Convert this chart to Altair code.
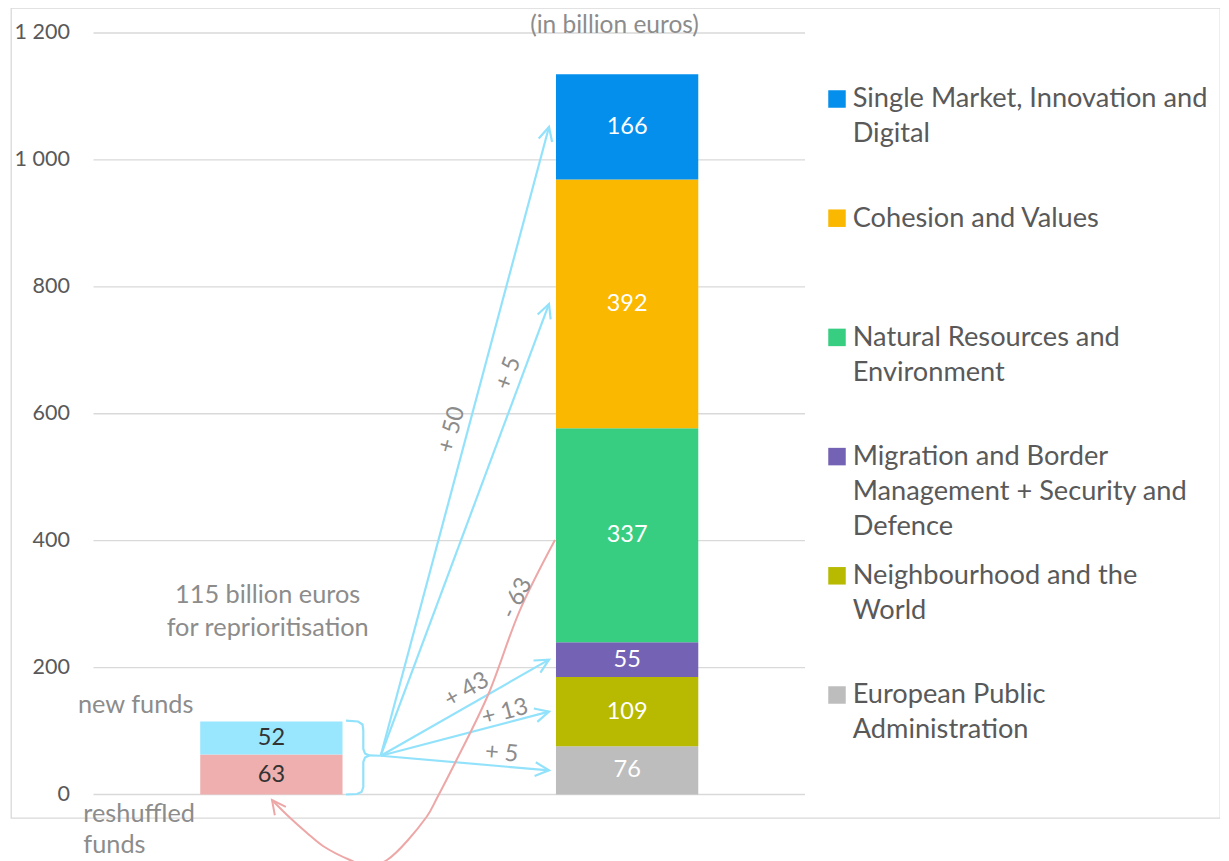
import math
import altair as alt
import pandas as pd

# ---------------- data ----------------
categories = [
    "European Public Administration",
    "Neighbourhood and the World",
    "Migration and Border Management + Security and Defence",
    "Natural Resources and Environment",
    "Cohesion and Values",
    "Single Market, Innovation and Digital",
]
legend_labels = [
    "European Public\nAdministration",
    "Neighbourhood and the\nWorld",
    "Migration and Border\nManagement + Security and\nDefence",
    "Natural Resources and\nEnvironment",
    "Cohesion and Values",
    "Single Market, Innovation and\nDigital",
]
category_values = [76, 109, 55, 337, 392, 166]
flows = [5, 13, 43, -63, 5, 50]
fund_names = ["reshuffled funds", "new funds"]
fund_values = [63, 52]
tick_values = [0, 200, 400, 600, 800, 1000, 1200]
tick_labels = ["0", "200", "400", "600", "800", "1 000", "1 200"]

# ---------------- styles ----------------
cat_colors = ["#BDBDBD", "#B7BA00", "#7463B4", "#38CE82", "#FAB800", "#058FEC"]
fund_colors = ["#EFAFAF", "#99E6FF"]
ARROW_BLUE = "#93E2FB"
ARROW_PINK = "#EDA7A7"
GREY_TXT = "#8C8C8C"
AXIS_TXT = "#595959"
FONT = "Lato"

# ---------------- layout ----------------
W, H = 1209, 810
SX = 711.5          # px per x unit (plot band width)
SY = 761.5 / 1200   # px per value unit
U_MIN = -82.5 / SX
U_MAX = U_MIN + W / SX
Y_MAX = 786.5 / SY
Y_MIN = Y_MAX - H / SY


def u_of(px):
    return U_MIN + px / SX


def y_of(py):
    return Y_MAX - py / SY


def screen_angle(u0, y0, u1, y1):
    dx = (u1 - u0) * SX
    dy = -(y1 - y0) * SY
    return (math.degrees(math.atan2(dy, dx)) + 360) % 360


BAR_HALF = 0.1
LEFT_C, RIGHT_C = 0.25, 0.75

# right bar
right = pd.DataFrame({"cat": categories, "value": category_values, "flow": flows})
right["y1"] = right["value"].cumsum()
right["y0"] = right["y1"] - right["value"]
right["mid"] = (right["y0"] + right["y1"]) / 2
right["x0"] = RIGHT_C - BAR_HALF
right["x1"] = RIGHT_C + BAR_HALF
right["xc"] = RIGHT_C

# left bar
left = pd.DataFrame({"cat": fund_names, "value": fund_values})
left["y1"] = left["value"].cumsum()
left["y0"] = left["y1"] - left["value"]
left["mid"] = (left["y0"] + left["y1"]) / 2
left["x0"] = LEFT_C - BAR_HALF
left["x1"] = LEFT_C + BAR_HALF
left["xc"] = LEFT_C
total_left = float(left["y1"].iloc[-1])

bars = pd.concat([right, left], ignore_index=True)

# brace + arrow origin (relative to left bar)
bar_r = LEFT_C + BAR_HALF
tip_y = 61.5
brace_pts = [
    (bar_r + 0.0049, total_left + 1.3), (bar_r + 0.0218, total_left), (bar_r + 0.0281, total_left - 4.7),
    (bar_r + 0.0292, total_left - 13.4), (bar_r + 0.0292, tip_y + 10.2), (bar_r + 0.0316, tip_y + 3.1),
    (bar_r + 0.0376, tip_y), (bar_r + 0.0316, tip_y - 3.2), (bar_r + 0.0292, tip_y - 10.3),
    (bar_r + 0.0292, 11.8), (bar_r + 0.0267, 3.9), (bar_r + 0.0203, 0.8), (bar_r + 0.0049, 0.0),
]
brace = pd.DataFrame({"u": [p[0] for p in brace_pts], "y": [p[1] for p in brace_pts],
                      "ord": list(range(len(brace_pts))), "id": "brace"})
origin_u, origin_y = bar_r + 0.0537, tip_y - 0.4
target_u = RIGHT_C - BAR_HALF - 0.0098

arrow_rows, head_rows = [], []
for i, r in right.iterrows():
    if r["flow"] > 0:
        arrow_rows.append({"id": f"a{i}", "ord": 0, "u": origin_u, "y": origin_y})
        arrow_rows.append({"id": f"a{i}", "ord": 1, "u": target_u, "y": r["mid"]})
        head_rows.append({"u": target_u, "y": r["mid"],
                          "ang": screen_angle(origin_u, origin_y, target_u, r["mid"])})
arrow_rows.append({"id": "tip", "ord": 0, "u": bar_r + 0.0376, "y": tip_y})
arrow_rows.append({"id": "tip", "ord": 1, "u": origin_u, "y": origin_y})
arrows = pd.DataFrame(arrow_rows)
heads = pd.DataFrame(head_rows)

# pink "-63" curve (annotation shape)
pink_u = [0.6486, 0.5994, 0.5545, 0.5081, 0.4828, 0.4683, 0.4125, 0.3858, 0.3605, 0.3225, 0.3001, 0.2720, 0.2509]
pink_y = [401.0, 290.7, 156.8, 49.6, -5.5, -35.0, -103.2, -112.7, -103.2, -81.1, -60.7, -32.3, -8.7]
pink = pd.DataFrame({"u": pink_u, "y": pink_y, "ord": list(range(len(pink_u)))})
pink_head = pd.DataFrame({"u": [pink_u[-1]], "y": [pink_y[-1]],
                          "ang": [screen_angle(pink_u[-2], pink_y[-2], pink_u[-1], pink_y[-1]) + 8]})

# flow label positions (annotation layout)
flow_lab_u = [0.5737, 0.5784, 0.5245, 0.5948, 0.5830, 0.5034]
flow_lab_y = [64.9, 129.5, 164.7, 309.2, 663.8, 574.6]
flow_txt = [(f"+ {v}" if v > 0 else f"- {abs(v)}") for v in flows]
flow_ang = []
for i, r in right.iterrows():
    if r["flow"] > 0:
        flow_ang.append(screen_angle(origin_u, origin_y, target_u, r["mid"]))
    else:
        flow_ang.append(296.0)
flow_labels = pd.DataFrame({"u": flow_lab_u, "y": flow_lab_y, "t": flow_txt, "ang": flow_ang})

# free texts
notes_c = pd.DataFrame({
    "u": [0.2448, 0.2448, 0.0593],
    "y": [301.3, 249.8, 128.9],
    "t": ["115 billion euros", "for reprioritisation", "new funds"],
})
unit_note = pd.DataFrame({"u": [0.7323], "y": [y_of(32.5 - 8)], "t": ["(in billion euros)"]})
notes_l = pd.DataFrame({"u": [-0.0143], "y": [-42.9], "t": ["reshuffled\nfunds"]})

# legend (manual, evenly spaced)
leg_order = list(range(len(categories)))[::-1]
leg = pd.DataFrame({
    "cat": [categories[i] for i in leg_order],
    "lab": [legend_labels[i] for i in leg_order],
})
base_py = 99.3
step_py = 119.2
leg["ty"] = [y_of(base_py + k * step_py) for k in range(len(leg))]
leg["sy"] = [y_of(base_py - 8.3 + k * step_py) for k in range(len(leg))]
leg["su"] = u_of(826)
leg["tu"] = u_of(841.7)

grid = pd.DataFrame({"v": tick_values, "lab": tick_labels, "gx0": 0.0, "gx1": 1.0, "lx": u_of(59)})

# ---------------- chart ----------------
xs = alt.Scale(domain=[U_MIN, U_MAX], nice=False, zero=False)
ys = alt.Scale(domain=[Y_MIN, Y_MAX], nice=False, zero=False)
cscale = alt.Scale(domain=categories + fund_names, range=cat_colors + fund_colors)


def X(f):
    return alt.X(f, type="quantitative", scale=xs, axis=None)


def Y(f):
    return alt.Y(f, type="quantitative", scale=ys, axis=None)


grid_l = alt.Chart(grid).mark_rule(color="#D9D9D9", strokeWidth=1.3).encode(
    x=X("gx0"), x2="gx1", y=Y("v"))
ticklab_l = alt.Chart(grid).mark_text(font=FONT, fontSize=21.5, color=AXIS_TXT, align="right",
                                      baseline="middle").encode(
    x=X("lx"), y=Y("v"), text="lab:N")

bars_l = alt.Chart(bars).mark_rect().encode(
    x=X("x0"), x2="x1", y=Y("y0"), y2="y1",
    color=alt.Color("cat:N", scale=cscale, legend=None))

rlab = alt.Chart(right).mark_text(font=FONT, fontSize=23.5, color="white", baseline="middle").encode(
    x=X("xc"), y=Y("mid"), text="value:Q")
llab = alt.Chart(left).mark_text(font=FONT, fontSize=23.5, color="#333333", baseline="middle").encode(
    x=X("xc"), y=Y("mid"), text="value:Q")

brace_l = alt.Chart(brace).mark_line(color=ARROW_BLUE, strokeWidth=2.2).encode(
    x=X("u"), y=Y("y"), order="ord:Q")
arrows_l = alt.Chart(arrows).mark_line(color=ARROW_BLUE, strokeWidth=2.2).encode(
    x=X("u"), y=Y("y"), detail="id:N", order="ord:Q")
heads_l = alt.Chart(heads).mark_point(shape="M-1,-0.5L0,0L-1,0.5", filled=False, size=768,
                                      strokeWidth=2.2, color=ARROW_BLUE, opacity=1).encode(
    x=X("u"), y=Y("y"), angle=alt.Angle("ang:Q", scale=None))
pink_l = alt.Chart(pink).mark_line(color=ARROW_PINK, strokeWidth=2, interpolate="catmull-rom").encode(
    x=X("u"), y=Y("y"), order="ord:Q")
pink_head_l = alt.Chart(pink_head).mark_point(shape="M-1,-0.5L0,0L-1,0.5", filled=False, size=768,
                                              strokeWidth=2, color=ARROW_PINK, opacity=1).encode(
    x=X("u"), y=Y("y"), angle=alt.Angle("ang:Q", scale=None))

flow_l = alt.Chart(flow_labels).mark_text(font=FONT, fontSize=23.5, color=GREY_TXT,
                                          align="center", baseline="middle").encode(
    x=X("u"), y=Y("y"), text="t:N", angle=alt.Angle("ang:Q", scale=None))

notes_c_l = alt.Chart(notes_c).mark_text(font=FONT, fontSize=25.3, color=GREY_TXT,
                                         align="center", baseline="alphabetic").encode(
    x=X("u"), y=Y("y"), text="t:N")
unit_l = alt.Chart(unit_note).mark_text(font=FONT, fontSize=24.5, color=GREY_TXT,
                                        align="center", baseline="alphabetic").encode(
    x=X("u"), y=Y("y"), text="t:N")
notes_l_l = alt.Chart(notes_l).mark_text(font=FONT, fontSize=25.3, color=GREY_TXT, align="left",
                                         baseline="alphabetic", lineBreak="\n", lineHeight=31).encode(
    x=X("u"), y=Y("y"), text="t:N")

leg_sq = alt.Chart(leg).mark_square(size=306, opacity=1).encode(
    x=X("su"), y=Y("sy"), color=alt.Color("cat:N", scale=cscale, legend=None))
leg_tx = alt.Chart(leg).mark_text(font=FONT, fontSize=27.2, color=AXIS_TXT, align="left",
                                  baseline="alphabetic", lineBreak="\n", lineHeight=35).encode(
    x=X("tu"), y=Y("ty"), text="lab:N")

chart = alt.layer(
    grid_l, ticklab_l, bars_l, rlab, llab, brace_l, arrows_l, heads_l, pink_l, pink_head_l,
    flow_l, notes_c_l, unit_l, notes_l_l, leg_sq, leg_tx,
).properties(
    width=W, height=H,
    autosize=alt.AutoSizeParams(type="none"),
    padding={"left": 3, "top": 0, "right": 0, "bottom": 43},
    background="white",
).configure_view(stroke="#D9D9D9", strokeWidth=1.3)

chart.save("out.html", embed_options={"renderer": "svg", "actions": False})
